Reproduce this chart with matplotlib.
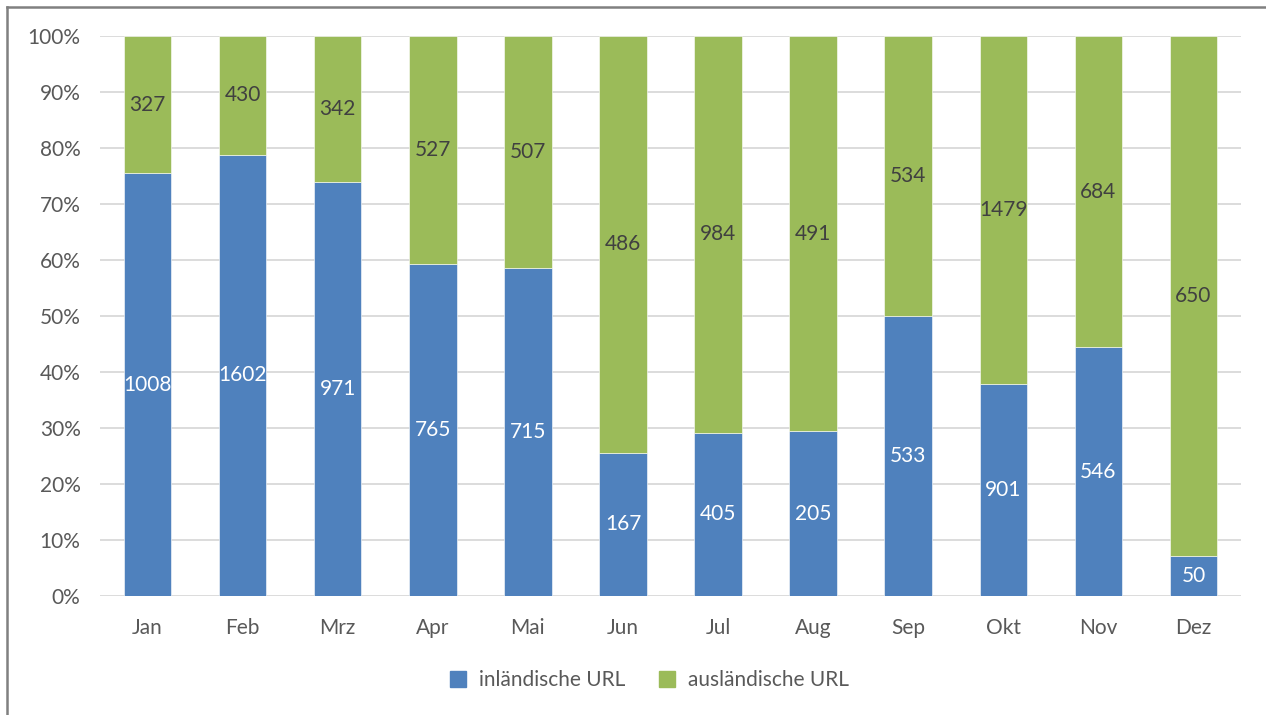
import numpy as np
import matplotlib.pyplot as plt
from matplotlib.lines import Line2D
from matplotlib.ticker import PercentFormatter

plt.rcParams['font.family'] = ['Lato', 'DejaVu Sans']

# Data
months = ['Jan', 'Feb', 'Mrz', 'Apr', 'Mai', 'Jun', 'Jul', 'Aug', 'Sep', 'Okt', 'Nov', 'Dez']
inland = [1008, 1602, 971, 765, 715, 167, 405, 205, 533, 901, 546, 50]
foreign = [327, 430, 342, 527, 507, 486, 984, 491, 534, 1479, 684, 650]
series_names = ['inländische URL', 'ausländische URL']

blue = '#4F81BD'
green = '#9BBB59'

inland = np.array(inland, dtype=float)
foreign = np.array(foreign, dtype=float)
total = inland + foreign
p_in = inland / total * 100
p_out = foreign / total * 100

W, H = 1266, 715
fig = plt.figure(figsize=(W / 100, H / 100), dpi=100)
ax = fig.add_axes([100 / W, 1 - 596 / H, (1241 - 100) / W, (596 - 36) / H])

x = np.arange(len(months))
ax.bar(x, p_in, width=0.5, color=blue, edgecolor='white', linewidth=0.4, zorder=3)
ax.bar(x, p_out, width=0.5, bottom=p_in, color=green, edgecolor='white', linewidth=0.4, zorder=3)

for i in range(len(months)):
    ax.text(x[i], p_in[i] / 2, f'{int(inland[i])}', ha='center', va='center',
            fontsize=15, color='white', zorder=4)
    ax.text(x[i], p_in[i] + p_out[i] / 2, f'{int(foreign[i])}', ha='center', va='center',
            fontsize=15, color='#404040', zorder=4)

ax.set_xlim(-0.5, len(months) - 0.5)
ax.set_ylim(0, 100)
ax.set_yticks(np.arange(0, 101, 10))
ax.yaxis.set_major_formatter(PercentFormatter(decimals=0))
ax.set_xticks(x)
ax.set_xticklabels(months)
ax.tick_params(axis='both', length=0, labelsize=15, colors='#595959')
ax.tick_params(axis='x', pad=16)
ax.tick_params(axis='y', pad=14)
ax.grid(axis='y', color='#D9D9D9', linewidth=1.3, zorder=0)
for s in ax.spines.values():
    s.set_visible(False)

handles = [Line2D([], [], marker='s', linestyle='none', markersize=11, color=c) for c in (blue, green)]
fig.legend(handles, series_names, loc='center', bbox_to_anchor=(643 / W, 1 - 680 / H), ncol=2,
           frameon=False, fontsize=15, handletextpad=0.0, columnspacing=1.0, labelcolor='#595959')

# outer frame (top and left edges visible)
fig.add_artist(Line2D([7 / W, 7 / W], [0, 1 - 7 / H], color='#808080', linewidth=1.8))
fig.add_artist(Line2D([7 / W, 1], [1 - 7 / H, 1 - 7 / H], color='#808080', linewidth=1.8))

fig.savefig('out.png', dpi=100)
